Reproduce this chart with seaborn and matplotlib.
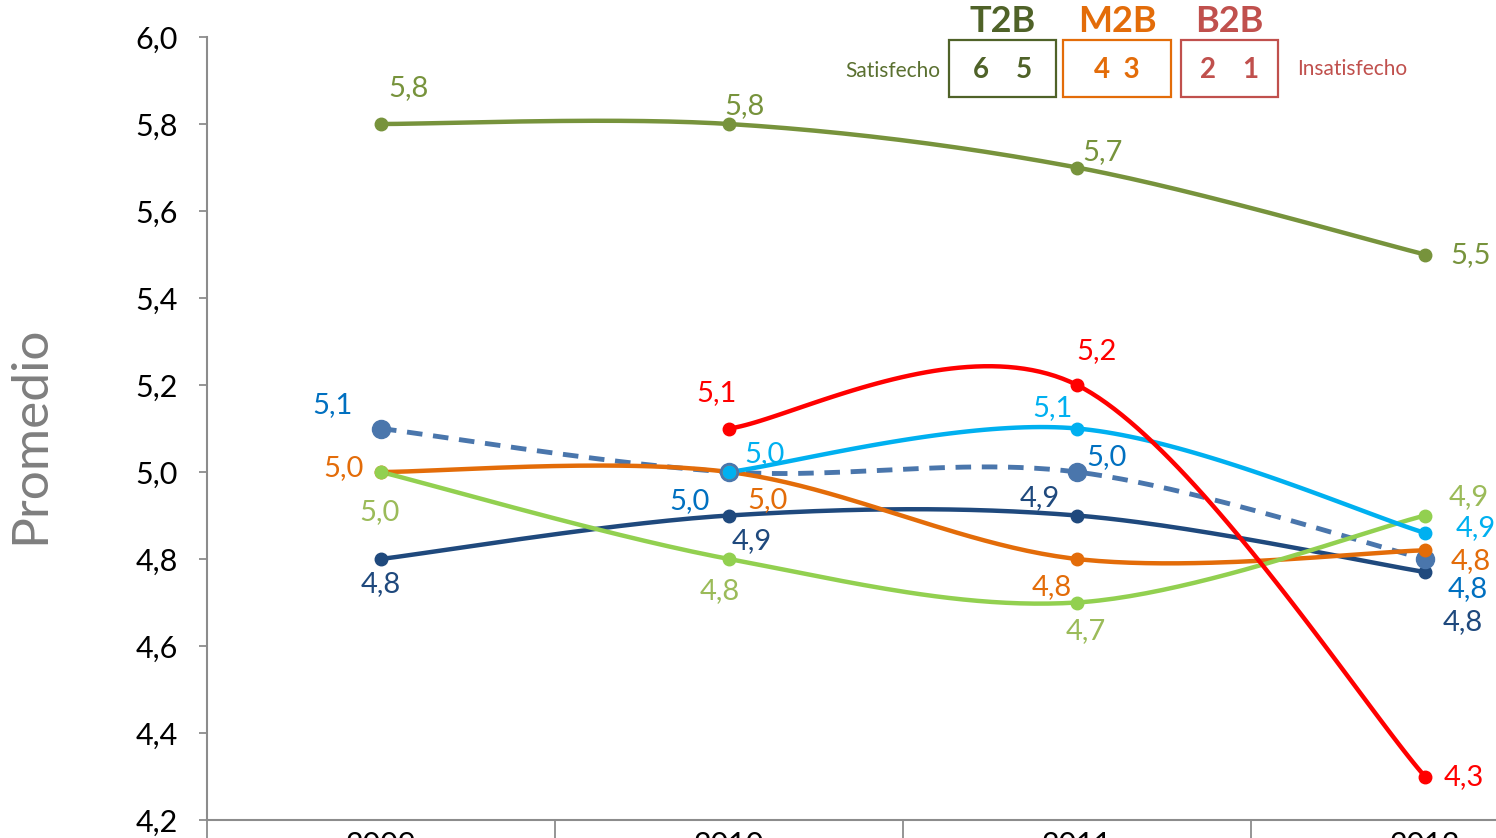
import numpy as np
import pandas as pd
import matplotlib
matplotlib.use("Agg")
import matplotlib.pyplot as plt
from matplotlib.patches import Rectangle
import seaborn as sns

# Data
years = ["2009", "2010", "2011", "2012"]
olive_vals = [5.80, 5.80, 5.70, 5.50]
red_vals = [np.nan, 5.10, 5.20, 4.30]
sky_vals = [np.nan, 5.00, 5.10, 4.86]
dashed_vals = [5.10, 5.00, 5.00, 4.80]
navy_vals = [4.80, 4.90, 4.90, 4.77]
orange_vals = [5.00, 5.00, 4.80, 4.82]
green_vals = [5.00, 4.80, 4.70, 4.90]
y_ticks = [4.2, 4.4, 4.6, 4.8, 5.0, 5.2, 5.4, 5.6, 5.8, 6.0]

# Styles: line colour, label colour, marker size, dashed, label offsets (pixels)
series = [
    ("navy", navy_vals, "#1F497D", "#1F497D", 9, False,
     [(0, -25), (23, -26), (-37, 17), (38, -50)]),
    ("dashed", dashed_vals, "#4A76AC", "#0070C0", 13, True,
     [(-48, 23), (-39, -29), (30, 15), (43, -30)]),
    ("orange", orange_vals, "#E36C09", "#E36C09", 9, False,
     [(-37, 4), (39, -28), (-25, -28), (46, -11)]),
    ("green", green_vals, "#92D050", "#9BBB59", 9, False,
     [(-1, -40), (-9, -32), (9, -29), (44, 18)]),
    ("sky", sky_vals, "#00B0F0", "#00B0F0", 9, False,
     [None, (36, 18), (-24, 20), (51, 5)]),
    ("red", red_vals, "#FF0000", "#FF0000", 9, False,
     [None, (-12, 35), (20, 34), (39, -1)]),
    ("olive", olive_vals, "#77933C", "#77933C", 9, False,
     [(28, 36), (16, 18), (26, 15), (46, -1)]),
]


def smooth(xs, ys, n=50):
    # Excel-like smoothed line (Catmull-Rom as cubic Bezier)
    pts = np.column_stack([xs, ys])
    out = []
    m = len(pts)
    for i in range(m - 1):
        p0 = pts[max(i - 1, 0)]
        p1 = pts[i]
        p2 = pts[i + 1]
        p3 = pts[min(i + 2, m - 1)]
        c1 = p1 + (p2 - p0) / 6
        c2 = p2 - (p3 - p1) / 6
        t = np.linspace(0, 1, n)[:, None]
        seg = ((1 - t) ** 3) * p1 + 3 * ((1 - t) ** 2) * t * c1 + 3 * (1 - t) * t ** 2 * c2 + t ** 3 * p2
        out.append(seg if i == 0 else seg[1:])
    return np.vstack(out)


sns.set_theme(style="white")
plt.rcParams['font.family'] = ['Lato', 'DejaVu Sans']

fig = plt.figure(figsize=(14.96, 8.38), dpi=100)
ax = fig.add_axes([207 / 1496, 18 / 838, 1392 / 1496, 783 / 838])
for s in ["top", "right"]:
    ax.spines[s].set_visible(False)
ax.spines["left"].set_position(("data", -0.5))

x_pos = np.arange(len(years))
for name, vals, color, lab_color, msize, dashed, offsets in series:
    vals = np.array(vals, dtype=float)
    ok = ~np.isnan(vals)
    curve = smooth(x_pos[ok], vals[ok])
    df = pd.DataFrame({"x": curve[:, 0], "y": curve[:, 1]})
    sns.lineplot(data=df, x="x", y="y", ax=ax, color=color,
                 lw=3.5 if dashed else 3.2,
                 sort=False, estimator=None,
                 linestyle="--" if dashed else "-",
                 dashes=False)
    if dashed:
        ax.lines[-1].set_dashes((3.2, 2.2))
    pts = pd.DataFrame({"x": x_pos[ok], "y": vals[ok]})
    sns.scatterplot(data=pts, x="x", y="y", ax=ax, s=msize ** 2, color=color,
                    edgecolor=color, linewidth=1, zorder=4)
    for xi, v, off in zip(x_pos, vals, offsets):
        if np.isnan(v) or off is None:
            continue
        ax.annotate(f"{v:.1f}".replace(".", ","), (xi, v), xytext=off,
                    textcoords="offset pixels", ha="center", va="center",
                    fontsize=21, color=lab_color, zorder=6)

ax.set_xlim(-0.5, 3.5)
ax.set_ylim(4.2, 6.0)
ax.set_yticks(y_ticks)
ax.set_yticklabels([f"{t:.1f}".replace(".", ",") for t in y_ticks])
ax.set_xticks(np.arange(-0.5, 4, 1))
ax.set_xticklabels([])
ax.set_xticks(x_pos, minor=True)
ax.set_xticklabels(years, minor=True)
ax.tick_params(axis="x", which="major", direction="out", length=16, width=1.3,
               color="#8C8C8C", bottom=True)
ax.tick_params(axis="x", which="minor", length=0, pad=8, labelsize=22,
               labelcolor="black")
ax.tick_params(axis="y", direction="out", length=6, width=1.3, color="#8C8C8C",
               left=True, pad=15, labelsize=22, labelcolor="black")
ax.set_xlabel("")
ax.set_ylabel("")
for s in ["left", "bottom"]:
    ax.spines[s].set_color("#8C8C8C")
    ax.spines[s].set_linewidth(1.5)

fig.text(30 / 1496, 1 - 435 / 838, "Promedio", rotation=90, ha="center", va="center",
         fontsize=37, color="#7F7F7F")


# legend-like header
def fx(px):
    return px / 1496


def fy(py):
    return 1 - py / 838


boxes = [
    ("T2B", "6    5", "#4F6228", 949, 1056),
    ("M2B", "4  3", "#E36C09", 1063, 1171),
    ("B2B", "2    1", "#C0504D", 1181, 1278),
]
for title, nums, col, x0, x1 in boxes:
    fig.patches.append(Rectangle((fx(x0), fy(97)), fx(x1 - x0), 57 / 838,
                                 transform=fig.transFigure, fill=False,
                                 edgecolor=col, lw=1.6))
    fig.text(fx((x0 + x1) / 2), fy(22), title, ha="center", va="center",
             fontsize=26, fontweight="bold", color=col)
    fig.text(fx((x0 + x1) / 2), fy(70), nums, ha="center", va="center",
             fontsize=20, fontweight="bold", color=col)
fig.text(fx(940), fy(71), "Satisfecho", ha="right", va="center", fontsize=15,
         color="#5A7030")
fig.text(fx(1297), fy(69), "Insatisfecho", ha="left", va="center", fontsize=15,
         color="#C0504D")

fig.savefig("out.png", dpi=100)
